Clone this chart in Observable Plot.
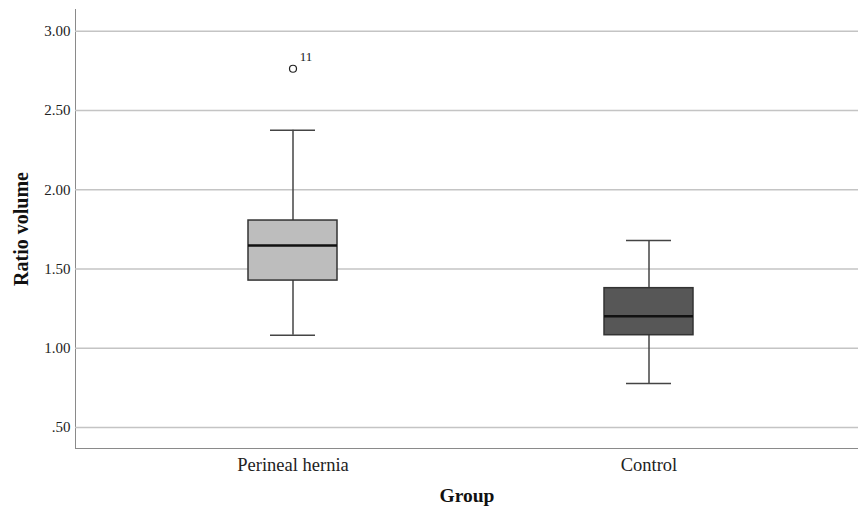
<!DOCTYPE html>
<html>
<head>
<meta charset="utf-8">
<script src="https://cdn.jsdelivr.net/npm/d3@7"></script>
<script src="https://cdn.jsdelivr.net/npm/@observablehq/plot@0.6"></script>
<style>
  body { margin: 0; background: #fff; }
  svg { font-family: "Liberation Serif", serif; }
</style>
</head>
<body>
<div id="chart"></div>
<script>
const categories = ["Perineal hernia", "Control"];
const whiskerLow = [1.082, 0.777];
const q1 = [1.427, 1.082];
const median = [1.648, 1.202];
const q3 = [1.806, 1.379];
const whiskerHigh = [2.376, 1.680];
const fills = ["#bdbdbd", "#575757"];
const outlierGroup = ["Perineal hernia"];
const outlierValue = [2.764];
const outlierLabel = ["11"];
const yTicks = [0.5, 1.0, 1.5, 2.0, 2.5, 3.0];
const yDomain = [0.367, 3.138];

const boxes = categories.map((g, i) => ({
  group: g, lo: whiskerLow[i], q1: q1[i], med: median[i], q3: q3[i], hi: whiskerHigh[i], fill: fills[i]
}));
const outliers = outlierGroup.map((g, i) => ({group: g, value: outlierValue[i], label: outlierLabel[i]}));

const fmt = d => d3.format(".2f")(d).replace(/^0\./, ".");

const chart = Plot.plot({
  width: 858,
  height: 512,
  marginLeft: 75,
  marginRight: 0,
  marginTop: 9,
  marginBottom: 64,
  style: {fontFamily: "Liberation Serif, serif", background: "#fff", fontSize: "15px", color: "#8a8a8a"},
  x: {
    domain: categories,
    paddingInner: 0.75,
    paddingOuter: 0.474,
    align: 0.513,
    label: null,
    tickSize: 0,
    tickPadding: 9,
    line: true
  },
  y: {
    domain: yDomain,
    ticks: yTicks,
    tickFormat: fmt,
    tickSize: 0,
    tickPadding: 5,
    label: null,
    line: true
  },
  marks: [
    Plot.ruleY(yTicks, {stroke: "#c4c4c4", strokeWidth: 1.5}),
    Plot.ruleX(boxes, {x: "group", y1: "lo", y2: "q1", stroke: "#444", strokeWidth: 1.5}),
    Plot.ruleX(boxes, {x: "group", y1: "q3", y2: "hi", stroke: "#444", strokeWidth: 1.5}),
    Plot.tickY(boxes, {x: "group", y: "lo", stroke: "#444", strokeWidth: 1.5, insetLeft: 22, insetRight: 22}),
    Plot.tickY(boxes, {x: "group", y: "hi", stroke: "#444", strokeWidth: 1.5, insetLeft: 22, insetRight: 22}),
    Plot.barY(boxes, {x: "group", y1: "q1", y2: "q3", fill: d => d.fill, stroke: "#333", strokeWidth: 1.5}),
    Plot.tickY(boxes, {x: "group", y: "med", stroke: "#111", strokeWidth: 2.5}),
    Plot.dot(outliers, {x: "group", y: "value", r: 3.5, fill: "#fff", stroke: "#222", strokeWidth: 1.2}),
    Plot.text(outliers, {x: "group", y: "value", text: "label", dx: 13, dy: -12, fontSize: 13, fill: "#222"}),
    Plot.text(["Ratio volume"], {frameAnchor: "left", textAnchor: "middle", dx: -54, rotate: -90, fontSize: 20, fontWeight: "bold", fill: "#111"}),
    Plot.text(["Group"], {frameAnchor: "bottom", dy: 53, fontSize: 19.5, fontWeight: "bold", fill: "#111"})
  ]
});

// axis tick labels dark, axis lines grey (via currentColor)
chart.querySelectorAll("[aria-label*='axis'] text").forEach(t => t.setAttribute("fill", "#222"));
chart.querySelectorAll("[aria-label*='x-axis'] text").forEach(t => t.setAttribute("font-size", "18.5"));
chart.querySelectorAll("path.domain, [aria-label*='axis'] path, [aria-label*='axis'] line").forEach(el => el.setAttribute("stroke-width", "1.5"));
document.getElementById("chart").appendChild(chart);
</script>
</body>
</html>
